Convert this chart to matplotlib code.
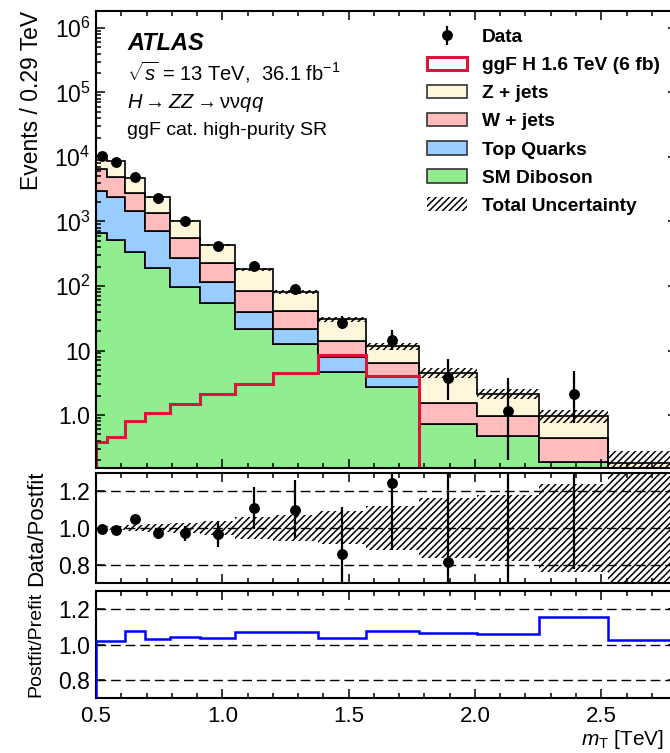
import numpy as np
import matplotlib
matplotlib.use('Agg')
import matplotlib.pyplot as plt
import matplotlib.transforms as mtransforms
from matplotlib.patches import Patch
from matplotlib.ticker import FixedLocator, MultipleLocator, LogLocator, NullFormatter

plt.rcParams['font.family'] = ['Liberation Sans', 'DejaVu Sans']
plt.rcParams['mathtext.fontset'] = 'custom'
plt.rcParams['mathtext.rm'] = 'Liberation Sans'
plt.rcParams['mathtext.it'] = 'Liberation Sans:italic'
plt.rcParams['mathtext.bf'] = 'Liberation Sans:bold'
plt.rcParams['hatch.linewidth'] = 1.1

# mT binning [TeV]
edges = np.array([0.5, 0.544, 0.615, 0.694, 0.794, 0.913, 1.052, 1.202,
                  1.377, 1.567, 1.778, 2.008, 2.254, 2.528, 2.8])

# background estimates (events / 0.29 TeV)
diboson = np.array([670, 517, 340, 188, 97.6, 55, 21.5, 12.5, 4.59, 2.75, 0.72, 0.48, 0.185, 0.04])
top_quarks = np.array([2330, 1903, 1130, 532, 171, 59, 17.6, 9.0, 3.41, 1.09, 0.0, 0.0, 0.0, 0.01])
wjets = np.array([3440, 2550, 1330, 620, 281, 116, 44.5, 19.5, 6.2, 2.48, 0.83, 0.49, 0.26, 0.06])
zjets = np.array([3930, 3540, 1930, 1060, 480, 202, 98, 39.7, 16.6, 5.38, 2.98, 1.16, 0.53, 0.07])

# relative total uncertainty of the background
rel_unc = np.array([0.01, 0.01, 0.015, 0.02, 0.025, 0.04, 0.06, 0.07, 0.09, 0.12, 0.165, 0.18, 0.24, 0.55])

# ggF H 1.6 TeV signal
signal = np.array([0.377, 0.461, 0.817, 1.06, 1.48, 2.09, 2.99, 4.53, 8.6, 4.07])

# data
data = np.array([10320, 8420, 4970, 2330, 1000, 418, 201, 88.5, 26.5, 14.6, 3.7, 1.15, 2.12])
data_up = np.array([105, 90, 95, 72, 41, 30, 21, 13.5, 7.9, 6.0, 3.6, 2.55, 2.75])
data_dn = np.array([105, 90, 95, 72, 41, 30, 20, 12.0, 5.2, 4.3, 2.0, 0.95, 1.36])

# postfit / prefit
post_pre = np.array([1.022, 1.022, 1.078, 1.031, 1.041, 1.039, 1.069, 1.069, 1.037,
                     1.078, 1.065, 1.059, 1.152, 1.024])

c_z = '#fff7dc'
c_w = '#ffbcbc'
c_top = '#99ccff'
c_vv = '#90ee90'
c_sig = '#dc143c'

fig = plt.figure(figsize=(6.7, 7.53), dpi=100)
ax = fig.add_axes([0.1433, 0.3785, 0.8672, 0.6069])
ax1 = fig.add_axes([0.1433, 0.2258, 0.8672, 0.1461])
ax2 = fig.add_axes([0.1433, 0.0730, 0.8672, 0.1421])

# stacked backgrounds
base = np.full(len(edges) - 1, 1e-3)
for vals, col in [(diboson, c_vv), (top_quarks, c_top), (wjets, c_w), (zjets, c_z)]:
    ax.stairs(base + vals, edges, baseline=base, fill=True, facecolor=col,
              edgecolor='black', lw=1.2)
    base = base + vals
total = base

ax.stairs(total * (1 + rel_unc), edges, baseline=total * (1 - rel_unc), fill=True,
          facecolor='none', edgecolor='black', hatch='/////', lw=0)

ax.stairs(signal, edges[:len(signal) + 1], baseline=1e-3, color=c_sig, lw=2.2)

n = len(data)
centers = 0.5 * (edges[:-1] + edges[1:])[:n]
eb = ax.errorbar(centers, data, yerr=[data_dn, data_up], fmt='o', color='black',
                 ms=6.8, elinewidth=1.6, capsize=0, zorder=5)

ax.set_yscale('log')
ax.set_ylim(0.151, 1.83e6)
ax.yaxis.set_major_locator(FixedLocator([1, 10, 1e2, 1e3, 1e4, 1e5, 1e6]))
ax.set_yticklabels(['1.0', '10', '$10^{2}$', '$10^{3}$', '$10^{4}$', '$10^{5}$', '$10^{6}$'])
ax.yaxis.set_minor_locator(LogLocator(base=10, subs=np.arange(2, 10), numticks=20))
ax.yaxis.set_minor_formatter(NullFormatter())
ax.set_ylabel('Events / 0.29 TeV', loc='top', fontsize=16.5, labelpad=8)

ax.text(0.0534, 0.9147, 'ATLAS', transform=ax.transAxes, fontsize=17,
        fontweight='bold', fontstyle='italic')
ax.text(0.0534, 0.849, r'$\sqrt{s}$ = 13 TeV,  36.1 fb$^{-1}$', transform=ax.transAxes,
        fontsize=14.5)
ax.text(0.0534, 0.788, r'$H \rightarrow ZZ \rightarrow \mathrm{\nu\nu}qq$',
        transform=ax.transAxes, fontsize=14.5)
ax.text(0.0534, 0.729, 'ggF cat. high-purity SR', transform=ax.transAxes, fontsize=14)

handles = [
    eb,
    Patch(facecolor='white', edgecolor=c_sig, lw=2.2),
    Patch(facecolor=c_z, edgecolor='#333333', lw=1.2),
    Patch(facecolor=c_w, edgecolor='#333333', lw=1.2),
    Patch(facecolor=c_top, edgecolor='#333333', lw=1.2),
    Patch(facecolor=c_vv, edgecolor='#333333', lw=1.2),
    Patch(facecolor='none', edgecolor='black', hatch='/////', lw=0),
]
labels = ['Data', 'ggF H 1.6 TeV (6 fb)', 'Z + jets', 'W + jets', 'Top Quarks',
          'SM Diboson', 'Total Uncertainty']
ax.legend(handles, labels, loc='upper left', bbox_to_anchor=(427 / 670, 1 - 28.5 / 753),
          bbox_transform=fig.transFigure, frameon=False, borderpad=0, borderaxespad=0,
          prop={'weight': 'bold', 'size': 13.8}, handlelength=2.1, handleheight=0.7,
          labelspacing=0.56, handletextpad=0.78)

# data / postfit
ax1.stairs(1 + rel_unc, edges, baseline=1 - rel_unc, fill=True, facecolor='none',
           edgecolor='black', hatch='/////', lw=0)
tot_d = total[:n]
ax1.errorbar(centers, data / tot_d, yerr=[data_dn / tot_d, data_up / tot_d], fmt='o',
             color='black', ms=6.8, elinewidth=1.6, capsize=0, zorder=5)
ax1.set_ylabel('Data/Postfit', fontsize=16, labelpad=8)

# postfit / prefit
ax2.stairs(post_pre, edges, baseline=0, color='blue', lw=1.8, zorder=4)
ax2.set_ylabel('Postfit/Prefit', fontsize=14, labelpad=10)

for a in (ax1, ax2):
    a.set_ylim(0.7, 1.3)
    for y in (0.8, 1.0, 1.2):
        a.axhline(y, color='black', lw=1.0, ls=(0, (7, 3.5)), zorder=1)
    a.yaxis.set_major_locator(FixedLocator([0.8, 1.0, 1.2]))
    a.set_yticklabels(['0.8', '1.0', '1.2'])

for a in (ax, ax1, ax2):
    a.set_xlim(0.5, 2.8)
    a.xaxis.set_major_locator(MultipleLocator(0.5))
    a.xaxis.set_minor_locator(MultipleLocator(0.1))
    a.tick_params(which='both', direction='in', top=True, right=True, width=1.1)
    a.tick_params(which='major', length=6.5, labelsize=16.5)
    a.tick_params(which='minor', length=3.5)
    a.tick_params(axis='x', pad=6)
    a.tick_params(axis='y', pad=4)
    for s in a.spines.values():
        s.set_linewidth(1.5)

ax.tick_params(axis='x', labelbottom=False)
ax1.tick_params(axis='x', labelbottom=False)
ax2.set_xticks([0.5, 1.0, 1.5, 2.0, 2.5])
ax2.set_xticklabels(['0.5', '1.0', '1.5', '2.0', '2.5'])
ax2.tick_params(axis='x', labelsize=16)

# x title sits right under the tick labels, kept inside the canvas
xlab = ax2.set_xlabel(r'$m_{\mathrm{T}}$ [TeV]', fontsize=15, ha='right', va='top')
fig.canvas.draw()
renderer = fig.canvas.get_renderer()
tick_bottom = min(t.get_window_extent(renderer).y0 for t in ax2.get_xticklabels())
pix = mtransforms.blended_transform_factory(ax2.transAxes, mtransforms.IdentityTransform())
for size in np.arange(15, 11, -0.5):
    xlab.set_fontsize(size)
    ax2.xaxis.set_label_coords(0.978, tick_bottom - 0.5, transform=pix)
    fig.canvas.draw()
    if xlab.get_window_extent(renderer).y0 >= 0.5:
        break

fig.savefig('out.png', dpi=100)
